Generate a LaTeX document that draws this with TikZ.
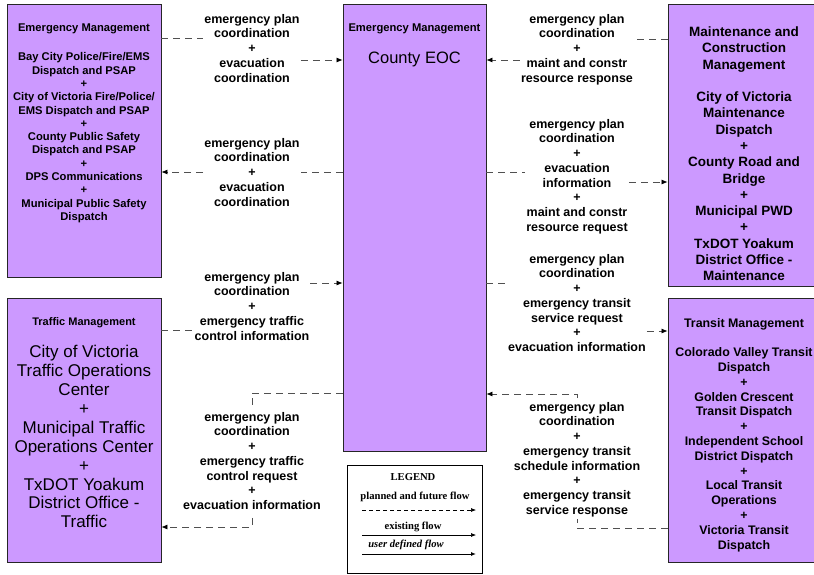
\documentclass[tikz,border=0pt]{standalone}
\usepackage{fontspec}
\setmainfont{Liberation Sans}
\newfontfamily\legfont{Liberation Serif}
\usetikzlibrary{arrows.meta}
\definecolor{boxfill}{HTML}{CC99FF}
\definecolor{flowgray}{HTML}{505050}
\begin{document}
\begin{tikzpicture}[x=1pt,y=-1pt,
  box/.style={draw=black!85, line width=0.8pt, fill=boxfill, inner sep=0pt},
  hdr/.style={font=\fontsize{11.2}{13.3}\selectfont\bfseries, align=center, inner sep=0pt, anchor=north},
  lbl/.style={align=center, inner xsep=1pt, inner ysep=0pt, anchor=north,
              font=\fontsize{12.5}{14.7}\selectfont\bfseries},
  flow/.style={draw=flowgray, line width=0.75pt, dash pattern=on 7pt off 5pt},
  flowarrow/.style={flow, -{Latex[length=6pt,width=5pt,color=black]}},
  lgt/.style={font=\legfont\fontsize{10.6}{12}\selectfont\bfseries, inner sep=0pt}
]
\useasboundingbox (0,0) rectangle (814,574);
\clip (0,0) rectangle (814,574);
\fill[white] (0,0) rectangle (814,574);

% boxes
\node[box, minimum width=154pt, minimum height=273pt] (em)  at (84,140.5) {};
\node[box, minimum width=143pt, minimum height=447pt] (eoc) at (414.5,227.5) {};
\node[box, minimum width=154pt, minimum height=282pt] (mcm) at (745,145) {};
\node[box, minimum width=154pt, minimum height=264pt] (tm)  at (84,430) {};
\node[box, minimum width=154pt, minimum height=264pt] (trm) at (745,430) {};

% box texts
\node[hdr] (emhead) at (84,23.5) {Emergency Management};
\node[hdr] (embody) at (84,52.5) {Bay City Police/Fire/EMS\\Dispatch and PSAP\\+\\City of Victoria Fire/Police/\\EMS Dispatch and PSAP\\+\\County Public Safety\\Dispatch and PSAP\\+\\DPS Communications\\+\\Municipal Public Safety\\Dispatch};
\node[hdr] (eochead) at (414.5,23.5) {Emergency Management};
\node[font=\fontsize{16.5}{19}\selectfont, inner sep=0pt, anchor=north] (eocname) at (414.5,51.4) {County EOC};
\node[font=\fontsize{13.5}{16.27}\selectfont\bfseries, align=center, inner sep=0pt, anchor=north] (mcmtext) at (744,26.6)
  {Maintenance and\\Construction\\Management\\[16.27pt]City of Victoria\\Maintenance\\Dispatch\\+\\County Road and\\Bridge\\+\\Municipal PWD\\+\\TxDOT Yoakum\\District Office -\\Maintenance};
\node[hdr, font=\fontsize{11}{13}\selectfont\bfseries] (tmhead) at (84,317.6) {Traffic Management};
\node[font=\fontsize{17}{18.9}\selectfont, align=center, inner sep=0pt, anchor=north] (tmbody) at (84,345.2)
  {City of Victoria\\Traffic Operations\\Center\\+\\Municipal Traffic\\Operations Center\\+\\TxDOT Yoakum\\District Office -\\Traffic};
\node[font=\fontsize{12.4}{14.8}\selectfont\bfseries, align=center, inner sep=0pt, anchor=north] (trmtext) at (744,318)
  {Transit Management\\[14.8pt]Colorado Valley Transit\\Dispatch\\+\\Golden Crescent\\Transit Dispatch\\+\\Independent School\\District Dispatch\\+\\Local Transit\\Operations\\+\\Victoria Transit\\Dispatch};

% labels
\node[lbl] (L1) at (252,14)  {emergency plan\\coordination\\+\\evacuation\\coordination};
\node[lbl] (L2) at (252,138) {emergency plan\\coordination\\+\\evacuation\\coordination};
\node[lbl] (L3) at (252,272) {emergency plan\\coordination\\+\\emergency traffic\\control information};
\node[lbl] (L4) at (252,412) {emergency plan\\coordination\\+\\emergency traffic\\control request\\+\\evacuation information};
\node[lbl] (L5) at (577,14)  {emergency plan\\coordination\\+\\maint and constr\\resource response};
\node[lbl] (L6) at (577,119) {emergency plan\\coordination\\+\\evacuation\\information\\+\\maint and constr\\resource request};
\node[lbl] (L7) at (577,254) {emergency plan\\coordination\\+\\emergency transit\\service request\\+\\evacuation information};
\node[lbl] (L8) at (577,402) {emergency plan\\coordination\\+\\emergency transit\\schedule information\\+\\emergency transit\\service response};

% connectors
\draw[flow] (em.east |- 0,38) -- (L1.west |- 0,38);
\draw[flowarrow] (L1.east |- 0,60) -- (eoc.west |- 0,60);

\draw[flow] (eoc.west |- 0,172) -- (L2.east |- 0,172);
\draw[flowarrow] (L2.west |- 0,172) -- (em.east |- 0,172);

\draw[flow] (tm.east |- 0,330) -- (L3.west |- 0,330);
\draw[flowarrow] (L3.east |- 0,283) -- (eoc.west |- 0,283);

\draw[flow] (eoc.west |- 0,393) -| ([yshift=4pt]L4.north);
\draw[flowarrow] ([yshift=-8pt]L4.south) |- (tm.east |- 0,527);

\draw[flow] (mcm.west |- 0,39) -- (L5.east |- 0,39);
\draw[flowarrow] (L5.west |- 0,60) -- (eoc.east |- 0,60);

\draw[flow] (eoc.east |- 0,172) -- (L6.west |- 0,172);
\draw[flowarrow] (L6.east |- 0,182) -- (mcm.west |- 0,182);

\draw[flow] (eoc.east |- 0,283) -- (L7.west |- 0,283);
\draw[flowarrow] (L7.east |- 0,331) -- (trm.west |- 0,331);

\draw[flow] (trm.west |- 0,528) -| ([yshift=-2pt]L8.south);
\draw[flowarrow] ([yshift=4pt]L8.north) |- (eoc.east |- 0,394);

% legend
\node[draw=black, line width=0.9pt, fill=white, minimum width=135pt, minimum height=108pt, inner sep=0pt] (lgd) at (414.5,519) {};
\node[lgt] (lgdtitle) at (413,477) {LEGEND};
\node[lgt] (lgdplan) at (415,497) {planned and future flow};
\coordinate (p1) at (362,510); \coordinate (p2) at (476,510);
\draw[black, line width=0.6pt, dash pattern=on 4pt off 3pt, -{Latex[length=5pt,width=4pt]}] (p1) -- (p2);
\node[lgt] (lgdexist) at (413,527) {existing flow};
\coordinate (e1) at (362,535); \coordinate (e2) at (476,535);
\draw[black, line width=0.6pt, -{Latex[length=5pt,width=4pt]}] (e1) -- (e2);
\node[lgt, font=\legfont\fontsize{10.6}{12}\selectfont\bfseries\itshape] (lgduser) at (406,545) {user defined flow};
\coordinate (u1) at (362,554); \coordinate (u2) at (476,554);
\draw[black, line width=1pt, -{Latex[length=5pt,width=4pt]}] (u1) -- (u2);
\end{tikzpicture}
\end{document}
